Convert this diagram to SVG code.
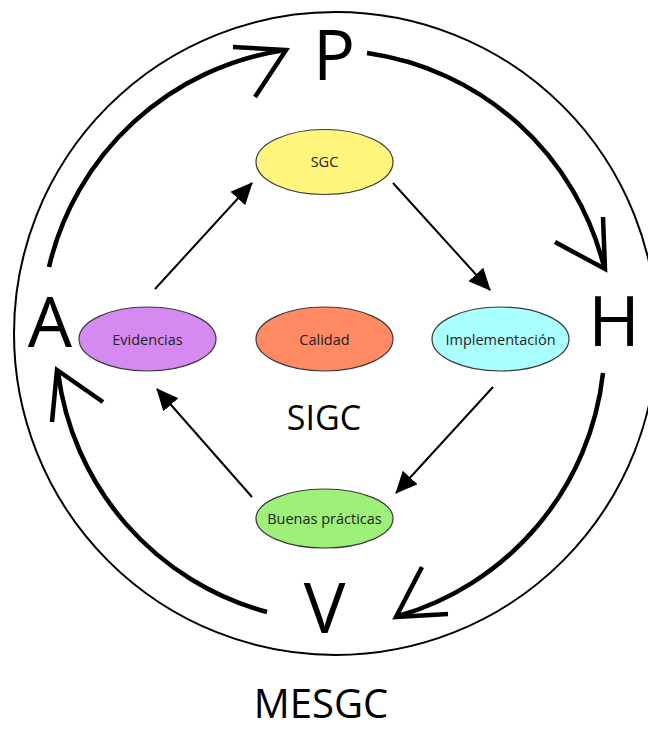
<svg xmlns="http://www.w3.org/2000/svg" width="648" height="730" viewBox="0 0 648 730">
  <style>
    .node { stroke: #3a3a3a; stroke-width: 1.2; }
    .label { font-family: "Open Sans", "Liberation Sans", sans-serif; font-size: 14.5px; fill: #222; text-anchor: middle; }
    .big { font-family: "Open Sans", "Liberation Sans", sans-serif; fill: #000; text-anchor: middle; }
    .cycle { fill: none; stroke: #000; stroke-width: 4.5; }
    .head { fill: none; stroke: #000; stroke-width: 4.5; stroke-linejoin: miter; stroke-miterlimit: 10; }
    .flow { fill: none; stroke: #000; stroke-width: 2; marker-end: url(#tri); }
  </style>
  <defs>
    <marker id="tri" viewBox="0 0 22 20" refX="21" refY="10" markerWidth="22" markerHeight="20" markerUnits="userSpaceOnUse" orient="auto">
      <path d="M0,0 L22,10 L0,20 Z" fill="#000"/>
    </marker>
  </defs>
  <rect width="648" height="730" fill="#fff"/>

  <!-- outer boundary of the model -->
  <circle cx="335.5" cy="333.5" r="321.5" fill="none" stroke="#000" stroke-width="2"/>

  <!-- PHVA cycle -->
  <g id="cycle">
    <path class="cycle" d="M49,267 A285,285 0 0 1 285,50"/>
    <polyline class="head" points="233,47 286,50 255,97"/>
    <path class="cycle" d="M367,53 A285,285 0 0 1 604,267"/>
    <polyline class="head" points="555,242 605,269 603,217"/>
    <path class="cycle" d="M603,373 A285,285 0 0 1 398,616"/>
    <polyline class="head" points="422,567 396,617 448,614"/>
    <path class="cycle" d="M267,612 A285,285 0 0 1 58,372"/>
    <polyline class="head" points="52,422 57,370 103,402"/>
  </g>

  <g id="letter-P"><text class="big" x="334" y="80" font-size="70">P</text></g>
  <g id="letter-H"><text class="big" x="614" y="346" font-size="70">H</text></g>
  <g id="letter-V"><text class="big" x="324.5" y="633" font-size="70">V</text></g>
  <g id="letter-A"><text class="big" x="50" y="347" font-size="70">A</text></g>

  <!-- inner flow between system elements -->
  <g id="connectors">
    <path class="flow" d="M155,289 L252,183"/>
    <path class="flow" d="M393,183 L490,290"/>
    <path class="flow" d="M493,387 L396,493"/>
    <path class="flow" d="M252,497 L157,389"/>
  </g>

  <g id="sgc">
    <ellipse class="node" cx="324.5" cy="162" rx="68.5" ry="32.5" fill="#fff57c"/>
    <text class="label" x="324.5" y="167">SGC</text>
  </g>
  <g id="evidencias">
    <ellipse class="node" cx="147.5" cy="339" rx="68.5" ry="32" fill="#d48af0"/>
    <text class="label" x="147.5" y="345">Evidencias</text>
  </g>
  <g id="calidad">
    <ellipse class="node" cx="324.5" cy="339" rx="68.5" ry="32" fill="#ff8a64"/>
    <text class="label" x="324.5" y="345">Calidad</text>
  </g>
  <g id="implementacion">
    <ellipse class="node" cx="500.5" cy="339" rx="68.5" ry="32" fill="#aaffff"/>
    <text class="label" x="500.5" y="345">Implementación</text>
  </g>
  <g id="buenas-practicas">
    <ellipse class="node" cx="324.5" cy="518.5" rx="68.5" ry="29.5" fill="#9ef07a"/>
    <text class="label" x="324.5" y="524">Buenas prácticas</text>
  </g>

  <g id="sigc"><text class="big" x="324" y="430" font-size="34">SIGC</text></g>
  <g id="mesgc"><text class="big" x="321" y="718" font-size="40">MESGC</text></g>
</svg>
